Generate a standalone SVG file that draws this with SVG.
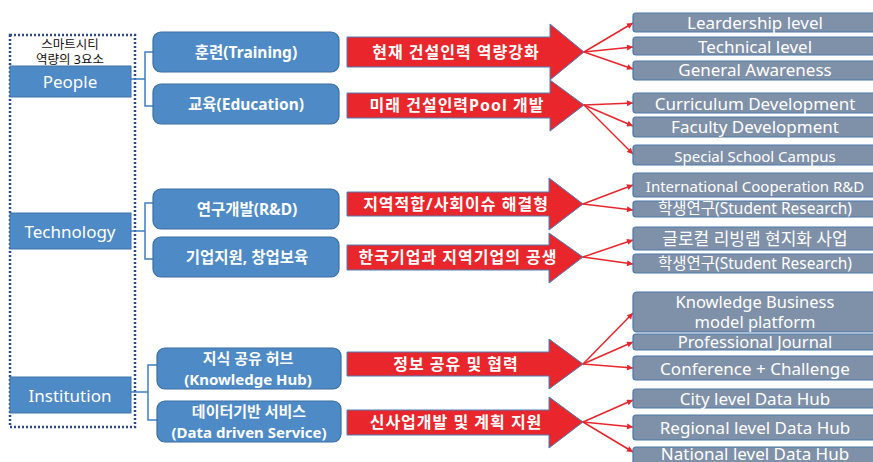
<svg xmlns="http://www.w3.org/2000/svg" width="873" height="462" viewBox="0 0 873 462">
<defs>
<style>
text{font-family:"Noto Sans","Noto Sans CJK KR",sans-serif;text-anchor:middle;fill:#fff}
.cat{fill:#4e8ac6;stroke:#3f74a8;stroke-width:1}
.cat-t{font-size:17px}
.node{fill:#4e8ac6;stroke:#3a6fa3;stroke-width:1.2}
.node-t{font-size:15.5px;font-weight:bold}
.node-t2{font-size:15px;font-weight:bold}
.arr{fill:#e8262b;stroke:#4a7ebb;stroke-width:1}
.arr-t{font-size:16px;font-weight:bold;letter-spacing:1px}
.out{fill:#7f90a9;stroke:#4a78a8;stroke-width:1.2}
.out-t{font-size:17px}
.brk{fill:none;stroke:#3f7fbf;stroke-width:1.5}
.fan{stroke:#e8262b;stroke-width:1.5;fill:none;marker-end:url(#ah)}
.title{fill:#111;font-size:12.5px}
</style>
<marker id="ah" viewBox="0 0 10 10" refX="10" refY="5" markerWidth="8" markerHeight="6" markerUnits="userSpaceOnUse" orient="auto">
<path d="M0,0 L10,5 L0,10 z" fill="#e8262b"/>
</marker>
</defs>
<rect width="873" height="462" fill="#fff"/>

<g id="frame">
<rect x="10" y="35" width="125" height="392" fill="none" stroke="#2c4a85" stroke-width="2.5" stroke-dasharray="2 2"/>
<text class="title" x="70" y="49">스마트시티</text>
<text class="title" x="70" y="64">역량의 3요소</text>
</g>

<g id="people"><rect class="cat" x="10" y="66" width="121" height="31"/><text class="cat-t" x="70" y="88">People</text></g>
<g id="technology"><rect class="cat" x="10" y="213" width="121" height="36"/><text class="cat-t" x="70" y="238">Technology</text></g>
<g id="institution"><rect class="cat" x="10" y="377" width="121" height="36"/><text class="cat-t" x="70" y="402">Institution</text></g>

<g id="connectors">
<path class="brk" d="M131,79 H145 M153,52 H145 V106 H153"/>
<path class="brk" d="M131,231 H145 M153,203 H145 V259 H153"/>
<path class="brk" d="M131,392 H148 M157,365 H148 V420 H157"/>
<line class="fan" x1="584" y1="52" x2="633" y2="23"/>
<line class="fan" x1="584" y1="52" x2="633" y2="47"/>
<line class="fan" x1="584" y1="52" x2="633" y2="69"/>
<line class="fan" x1="584" y1="105" x2="633" y2="103"/>
<line class="fan" x1="584" y1="105" x2="633" y2="126"/>
<line class="fan" x1="584" y1="105" x2="633" y2="154"/>
<line class="fan" x1="583" y1="204" x2="633" y2="185"/>
<line class="fan" x1="583" y1="204" x2="633" y2="210"/>
<line class="fan" x1="583" y1="257" x2="633" y2="240"/>
<line class="fan" x1="583" y1="257" x2="633" y2="264"/>
<line class="fan" x1="583" y1="364" x2="633" y2="313"/>
<line class="fan" x1="583" y1="364" x2="633" y2="342"/>
<line class="fan" x1="583" y1="364" x2="633" y2="368"/>
<line class="fan" x1="583" y1="422" x2="633" y2="400"/>
<line class="fan" x1="583" y1="422" x2="633" y2="427"/>
<line class="fan" x1="583" y1="422" x2="633" y2="452"/>
</g>

<g id="training"><rect class="node" x="153" y="32" width="186" height="40" rx="8"/><text class="node-t" x="246" y="58">훈련(Training)</text></g>
<g id="education"><rect class="node" x="153" y="84" width="186" height="40" rx="8"/><text class="node-t" x="246" y="110">교육(Education)</text></g>
<g id="rnd"><rect class="node" x="153" y="189" width="186" height="40" rx="8"/><text class="node-t" x="247" y="215">연구개발(R&amp;D)</text></g>
<g id="startup"><rect class="node" x="153" y="237" width="186" height="40" rx="8"/><text class="node-t" x="247" y="263">기업지원, 창업보육</text></g>
<g id="knowledge-hub"><rect class="node" x="157" y="348" width="184" height="41" rx="8"/><text class="node-t2" x="248" y="364">지식 공유 허브</text><text class="node-t2" x="248" y="385">(Knowledge Hub)</text></g>
<g id="data-service"><rect class="node" x="157" y="401" width="184" height="41" rx="8"/><text class="node-t2" x="249" y="417">데이터기반 서비스</text><text class="node-t2" x="249" y="438">(Data driven Service)</text></g>

<g id="arrow1"><polygon class="arr" points="347,37 550,37 550,24 584,52 550,80 550,67 347,67"/><text class="arr-t" x="456" y="58">현재 건설인력 역량강화</text></g>
<g id="arrow2"><polygon class="arr" points="347,93 550,93 550,80 584,105 550,131 550,118 347,118"/><text class="arr-t" x="457" y="111">미래 건설인력Pool 개발</text></g>
<g id="arrow3"><polygon class="arr" points="347,192 549,192 549,178 583,204 549,230 549,216 347,216"/><text class="arr-t" x="456" y="210">지역적합/사회이슈 해결형</text></g>
<g id="arrow4"><polygon class="arr" points="347,245 549,245 549,233 583,257 549,283 549,270 347,270"/><text class="arr-t" x="458" y="263">한국기업과 지역기업의 공생</text></g>
<g id="arrow5"><polygon class="arr" points="347,352 549,352 549,339 583,364 549,389 549,376 347,376"/><text class="arr-t" x="456" y="370">정보 공유 및 협력</text></g>
<g id="arrow6"><polygon class="arr" points="347,410 549,410 549,397 583,422 549,448 549,435 347,435"/><text class="arr-t" x="456" y="428">신사업개발 및 계획 지원</text></g>

<g id="leadership"><rect class="out" x="633" y="13" width="245" height="19" rx="3"/><text class="out-t" x="755" y="29">Leardership level</text></g>
<g id="technical"><rect class="out" x="633" y="37" width="245" height="18" rx="3"/><text class="out-t" x="755" y="53">Technical level</text></g>
<g id="general"><rect class="out" x="633" y="61" width="245" height="19" rx="3"/><text class="out-t" x="755" y="76">General Awareness</text></g>
<g id="curriculum"><rect class="out" x="633" y="93" width="245" height="20" rx="3"/><text class="out-t" x="755" y="110">Curriculum Development</text></g>
<g id="faculty"><rect class="out" x="633" y="117" width="245" height="20" rx="3"/><text class="out-t" x="755" y="133">Faculty Development</text></g>
<g id="special"><rect class="out" x="633" y="145" width="245" height="20" rx="3"/><text class="out-t" x="755" y="162" style="font-size:15px">Special School Campus</text></g>
<g id="intl"><rect class="out" x="633" y="173" width="245" height="24" rx="3"/><text class="out-t" x="755" y="192" style="font-size:15px">International Cooperation R&amp;D</text></g>
<g id="student1"><rect class="out" x="633" y="201" width="245" height="16" rx="3"/><text class="out-t" x="755" y="214" style="font-size:15.5px">학생연구(Student Research)</text></g>
<g id="glocal"><rect class="out" x="633" y="227" width="245" height="23" rx="3"/><text class="out-t" x="755" y="245">글로컬 리빙랩 현지화 사업</text></g>
<g id="student2"><rect class="out" x="633" y="254" width="245" height="19" rx="3"/><text class="out-t" x="755" y="269" style="font-size:15.5px">학생연구(Student Research)</text></g>
<g id="kbmp"><rect class="out" x="633" y="292" width="245" height="40" rx="4"/><text class="out-t" x="755" y="308" style="font-size:16.5px">Knowledge Business</text><text class="out-t" x="755" y="328" style="font-size:16.5px">model platform</text></g>
<g id="journal"><rect class="out" x="633" y="334" width="245" height="16" rx="3"/><text class="out-t" x="755" y="348" style="font-size:16.5px">Professional Journal</text></g>
<g id="conference"><rect class="out" x="633" y="356" width="245" height="24" rx="3"/><text class="out-t" x="755" y="375">Conference + Challenge</text></g>
<g id="city"><rect class="out" x="633" y="389" width="245" height="19" rx="3"/><text class="out-t" x="755" y="405">City level Data Hub</text></g>
<g id="regional"><rect class="out" x="633" y="415" width="245" height="25" rx="3"/><text class="out-t" x="755" y="434">Regional level Data Hub</text></g>
<g id="national"><rect class="out" x="633" y="447" width="245" height="22" rx="3"/><text class="out-t" x="755" y="460">National level Data Hub</text></g>
</svg>
